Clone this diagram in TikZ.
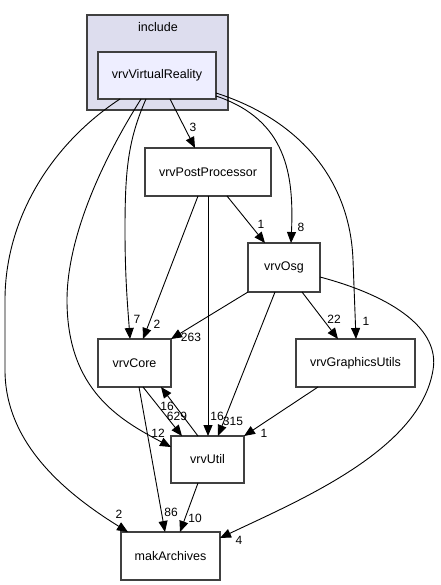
\documentclass[tikz,border=0pt]{standalone}
\usepackage{fontspec}
\setmainfont{Liberation Sans}
\usetikzlibrary{arrows.meta}
\definecolor{clfill}{HTML}{DDDDEE}
\definecolor{vrfill}{HTML}{EEEEFF}
\definecolor{bord}{HTML}{404040}
\tikzset{
  dirbox/.style={draw=bord, line width=1.4pt, fill=white, inner sep=0pt, outer sep=0pt, font=\fontsize{12.5}{14}\selectfont},
  clusterbox/.style={draw=bord, line width=1.4pt, fill=clfill, inner sep=0pt, outer sep=0pt},
  lbl/.style={inner sep=0pt, font=\fontsize{12}{14}\selectfont},
  dep/.style={draw=black, line width=0.9pt, -{Triangle[length=11pt,width=9pt]}}
}
\begin{document}
\begin{tikzpicture}[x=1pt,y=-1pt]
\useasboundingbox (0,0) rectangle (440,585);
% cluster
\node[clusterbox, minimum width=141pt, minimum height=95pt] (inc) at (157.5,62.5) {};
\node[lbl, font=\fontsize{12.5}{14}\selectfont] (inclbl) at (158,27) {include};
% nodes
\node[dirbox, fill=vrfill, minimum width=118pt, minimum height=47pt] (vr) at (157,75.5) {vrvVirtualReality};
\node[dirbox, minimum width=126pt, minimum height=48pt] (pp) at (208,172) {vrvPostProcessor};
\node[dirbox, minimum width=72pt, minimum height=49pt] (osg) at (284,267.5) {vrvOsg};
\node[dirbox, minimum width=73pt, minimum height=48pt] (core) at (134.5,363) {vrvCore};
\node[dirbox, minimum width=119pt, minimum height=48pt] (gu) at (355.5,363) {vrvGraphicsUtils};
\node[dirbox, minimum width=73pt, minimum height=47pt] (util) at (207.5,459.5) {vrvUtil};
\node[dirbox, minimum width=99pt, minimum height=48pt] (mak) at (170.5,556) {makArchives};
% edges
\draw[dep] ([xshift=22pt]vr.south west) .. controls (50,145) and (5,220) .. (5,300) -- (5,370)
  .. controls (5,440) and (60,490) .. ([xshift=7pt]mak.north west);
\draw[dep] ([xshift=43pt]vr.south west) .. controls (90,180) and (67,250) .. (67,300)
  .. controls (67,390) and (120,420) .. ([yshift=-11pt]util.north west);
\draw[dep] ([xshift=48pt]vr.south west) .. controls (128,140) and (125,170) .. (125,230)
  .. controls (125,280) and (128,310) .. ([xshift=32pt]core.north west);
\draw[dep] ([xshift=72pt]vr.south west) -- ([xshift=50pt]pp.north west);
\draw[dep] ([yshift=3pt]vr.south east) .. controls (287,120) and (294,175) .. ([xshift=43pt]osg.north west);
\draw[dep] ([yshift=6pt]vr.south east) .. controls (300,120) and (350,180) .. (353,260) -- ([xshift=60pt]gu.north west);
\draw[dep] ([xshift=53pt]pp.south west) -- ([xshift=45pt]core.north west);
\draw[dep] (pp.south) -- (pp.south |- util.north);
\draw[dep] ([xshift=82pt]pp.south west) -- ([xshift=17pt]osg.north west);
\draw[dep] (osg.south west) -- (core.north east);
\draw[dep] ([xshift=27pt]osg.south west) -- ([xshift=47pt]util.north west);
\draw[dep] ([xshift=54pt]osg.south west) -- ([xshift=42pt]gu.north west);
\draw[dep] ([yshift=-34pt]osg.north east) .. controls (395,297) and (440,330) .. (433,370)
  .. controls (420,450) and (300,500) .. ([yshift=-6pt]mak.north east);
\draw[dep] ([xshift=45pt]core.south west) -- ([xshift=11pt]util.north west);
\draw[dep] ([xshift=27pt]util.north west) -- ([xshift=63pt]core.south west);
\draw[dep] ([xshift=41pt]core.south west) -- ([xshift=44pt]mak.north west);
\draw[dep] ([xshift=22pt]gu.south west) -- (util.north east);
\draw[dep] ([xshift=27pt]util.south west) -- ([xshift=59pt]mak.north west);
% labels
\node[lbl] (l3) at (193,127) {3};
\node[lbl] (l1a) at (261,224) {1};
\node[lbl] (l8) at (301,227) {8};
\node[lbl] (l7) at (137,319) {7};
\node[lbl] (l2a) at (157,324) {2};
\node[lbl] (l263) at (191,337) {263};
\node[lbl] (l22) at (334,319) {22};
\node[lbl] (l1b) at (366,321) {1};
\node[lbl] (l16a) at (167,406) {16};
\node[lbl] (l629) at (177,416) {629};
\node[lbl] (l16b) at (217,416) {16};
\node[lbl] (l315) at (233,421) {315};
\node[lbl] (l12) at (158,433) {12};
\node[lbl] (l1c) at (264,433) {1};
\node[lbl] (l2b) at (119,514) {2};
\node[lbl] (l86) at (171,512) {86};
\node[lbl] (l10) at (195,518) {10};
\node[lbl] (l4) at (239,540) {4};
\end{tikzpicture}
\end{document}
